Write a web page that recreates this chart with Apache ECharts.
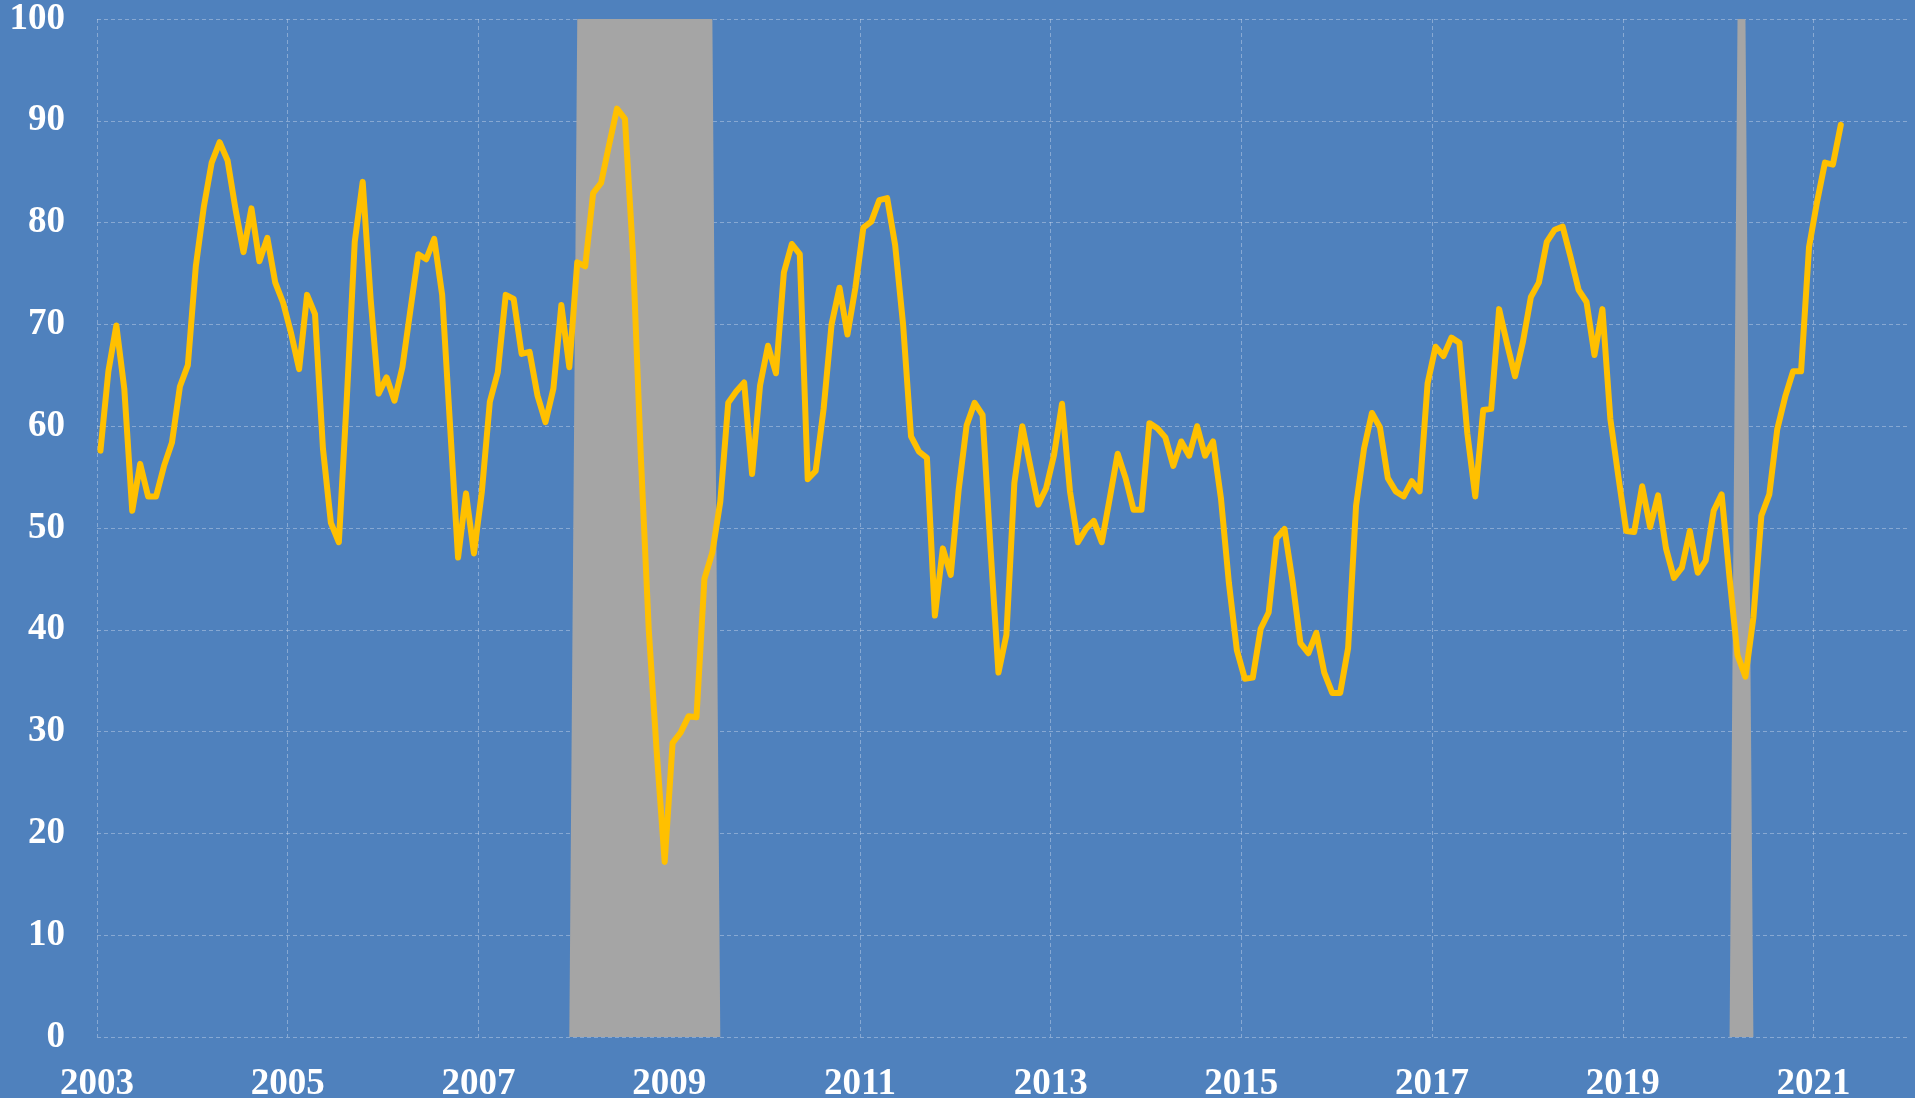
<!DOCTYPE html>
<html>
<head>
<meta charset="utf-8">
<script src="https://cdn.jsdelivr.net/npm/echarts@6/dist/echarts.min.js"></script>
<style>
html,body{margin:0;padding:0;background:#4f81bd;}
#chart{width:1915px;height:1098px;}
</style>
</head>
<body>
<div id="chart"></div>
<script>
// Monthly series, Jan 2003 .. Apr 2021
var startYear = 2003;
var startMonth = 1;
var values = [
  57.6, 65.4, 69.9, 63.7, 51.7, 56.3, 53.1, 53.1, 56.1, 58.4, 63.9, 66.0,
  75.7, 81.5, 85.9, 87.9, 86.1, 81.3, 77.1, 81.4, 76.2, 78.5, 74.1, 72.1,
  69.1, 65.6, 72.9, 71.0, 57.8, 50.5, 48.6, 62.7, 78.1, 84.0, 72.5, 63.2,
  64.8, 62.5, 65.8, 71.4, 76.9, 76.4, 78.4, 72.9, 60.0, 47.1, 53.4, 47.5,
  53.6, 62.4, 65.3, 72.9, 72.5, 67.1, 67.3, 63.0, 60.4, 63.7, 71.9, 65.8,
  76.1, 75.7, 82.9, 83.9, 87.6, 91.2, 90.2, 77.0, 57.0, 40.0, 28.0, 17.2,
  28.9, 29.9, 31.5, 31.4, 45.0, 47.6, 52.6, 62.3, 63.4, 64.3, 55.3, 64.0,
  67.9, 65.2, 75.1, 77.9, 76.9, 54.8, 55.6, 61.7, 70.0, 73.6, 69.0, 73.6,
  79.5, 80.1, 82.2, 82.4, 77.8, 70.0, 59.0, 57.5, 56.9, 41.4, 48.0, 45.4,
  53.8, 60.1, 62.3, 61.1, 48.0, 35.8, 39.5, 54.4, 60.0, 56.1, 52.3, 53.9,
  57.2, 62.2, 53.6, 48.6, 49.9, 50.7, 48.6, 52.9, 57.3, 54.9, 51.8, 51.8,
  60.3, 59.8, 58.9, 56.1, 58.5, 57.1, 60.0, 57.1, 58.5, 52.9, 44.6, 38.0,
  35.2, 35.3, 40.1, 41.7, 49.0, 49.9, 44.8, 38.7, 37.7, 39.7, 35.8, 33.8,
  33.8, 38.2, 52.2, 57.8, 61.3, 59.9, 54.9, 53.6, 53.1, 54.6, 53.6, 64.2,
  67.8, 66.9, 68.7, 68.2, 59.3, 53.1, 61.6, 61.7, 71.5, 68.1, 64.9, 68.3,
  72.7, 74.1, 78.1, 79.3, 79.6, 76.6, 73.4, 72.2, 67.0, 71.5, 60.7, 55.1,
  49.7, 49.6, 54.1, 50.1, 53.2, 48.0, 45.1, 46.1, 49.7, 45.6, 46.8, 51.7,
  53.3, 45.1, 37.5, 35.4, 41.2, 51.2, 53.3, 59.7, 62.9, 65.4, 65.4, 77.6,
  82.0, 85.9, 85.7, 89.6
];
// Recession months (first and last month in recession)
var recessionStart = ['2008-01', '2020-03'];
var recessionEnd   = ['2009-06', '2020-04'];
var recessionLevel = 100;
// Axis ticks
var xTickYears = [2003, 2005, 2007, 2009, 2011, 2013, 2015, 2017, 2019, 2021];
var yTicks = [0, 10, 20, 30, 40, 50, 60, 70, 80, 90, 100];

// data observations are dated mid-month (~14th)
var DAY_FRAC = 13 / 30;
function monthToX(y, m) { return y + (m - 1 + DAY_FRAC) / 12; }
function ymToX(s) { var p = s.split('-'); return monthToX(+p[0], +p[1]); }

var lineData = values.map(function (v, i) {
  var mIdx = startMonth - 1 + i;
  return [monthToX(startYear + Math.floor(mIdx / 12), (mIdx % 12) + 1), v];
});

var recData = [];
for (var r = 0; r < recessionStart.length; r++) {
  var a = ymToX(recessionStart[r]), b = ymToX(recessionEnd[r]);
  if (r > 0) recData.push([a - 2 / 12, null]);
  recData.push([a - 1 / 12, 0]);
  recData.push([a, recessionLevel]);
  recData.push([b, recessionLevel]);
  recData.push([b + 1 / 12, 0]);
}

var gridColor = 'rgba(225,232,245,0.38)';
var labelFont = { color: '#ffffff', fontFamily: 'Liberation Serif', fontWeight: 'bold', fontSize: 37 };

var chart = echarts.init(document.getElementById('chart'), null, { renderer: 'canvas' });
chart.setOption({
  backgroundColor: '#4f81bd',
  animation: false,
  grid: { left: 97, right: 8, top: 19, bottom: 61, containLabel: false, outerBoundsMode: 'none' },
  xAxis: {
    type: 'value',
    min: xTickYears[0],
    max: 2021.98,
    interval: 2,
    axisLine: { show: false },
    axisTick: { show: false },
    axisLabel: Object.assign({
      margin: 29,
      showMaxLabel: false,
      formatter: function (v) { return xTickYears.indexOf(v) >= 0 ? String(v) : ''; }
    }, labelFont),
    splitLine: { show: true, showMaxLine: false, lineStyle: { color: gridColor, type: [4, 3], width: 1 } }
  },
  yAxis: {
    type: 'value',
    min: yTicks[0],
    max: yTicks[yTicks.length - 1],
    interval: 10,
    axisLine: { show: false },
    axisTick: { show: false },
    axisLabel: Object.assign({ margin: 32 }, labelFont),
    splitLine: { show: true, lineStyle: { color: gridColor, type: [4, 3], width: 1 } }
  },
  series: [
    {
      type: 'line',
      data: recData,
      symbol: 'none',
      connectNulls: false,
      lineStyle: { width: 0, opacity: 0 },
      areaStyle: { color: '#a5a5a5', opacity: 1 },
      z: 1,
      silent: true
    },
    {
      type: 'line',
      data: lineData,
      symbol: 'none',
      lineStyle: { color: '#ffc000', width: 6, join: 'round', cap: 'round' },
      z: 3
    }
  ]
});
</script>
</body>
</html>
